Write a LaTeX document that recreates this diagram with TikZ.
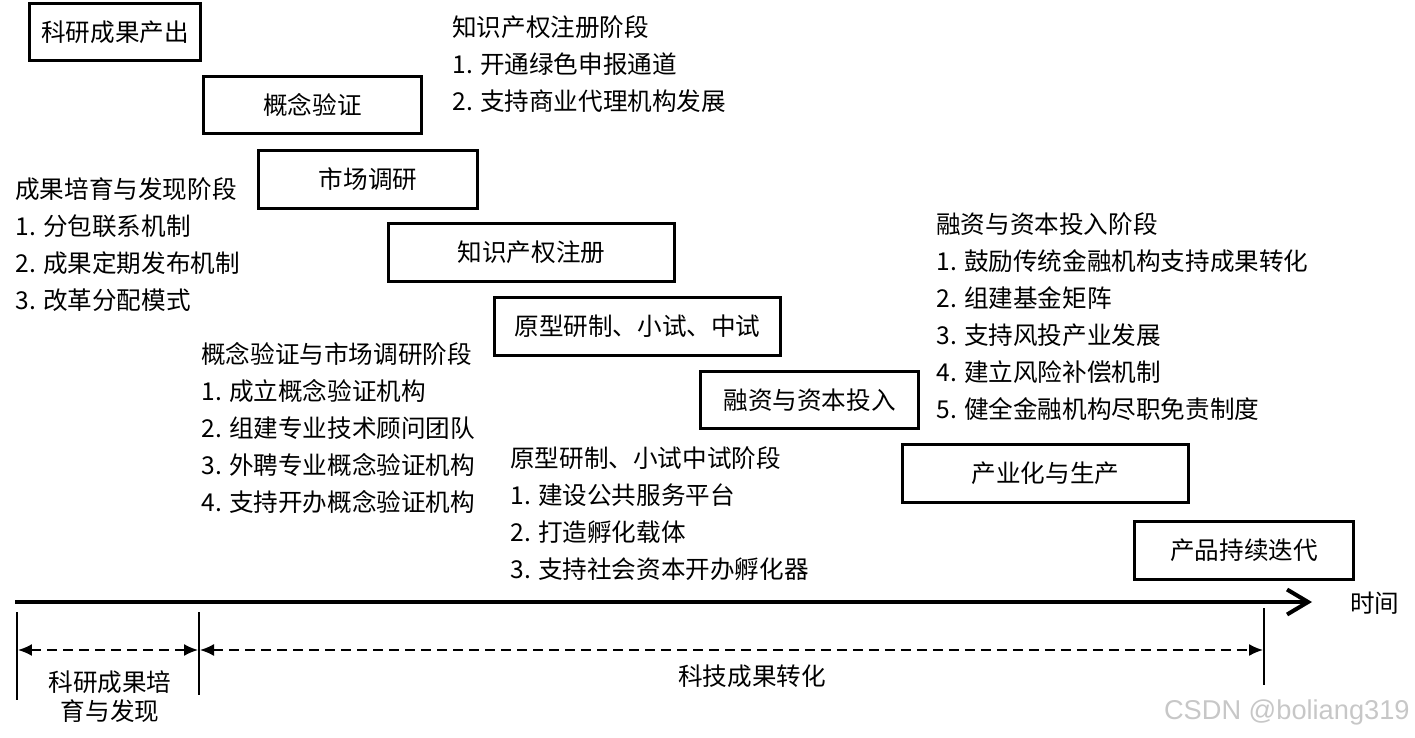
\documentclass[tikz,border=0pt]{standalone}
\usepackage{fontspec}
\setmainfont{Noto Sans CJK SC}
\newfontfamily\wmfont{Liberation Sans}
\usetikzlibrary{arrows.meta}
\tikzset{
  x=0.02cm, y=-0.02cm,
  stagebox/.style={draw=black, line width=1.6pt, inner sep=0pt, font=\fontsize{14}{21}\selectfont, minimum height=1.15cm},
  block/.style={anchor=base west, inner sep=0pt, align=left, font=\fontsize{14}{21}\selectfont},
  axis/.style={line width=2.3pt, -{Straight Barb[length=0.42cm, width=0.5cm, line width=2.3pt]}},
  tick/.style={line width=1pt},
  span/.style={line width=1pt, dash pattern=on 0.2cm off 0.12cm, {Latex[length=0.28cm, width=0.24cm]}-{Latex[length=0.28cm, width=0.24cm]}},
  lbl/.style={inner sep=0pt, font=\fontsize{14}{16.5}\selectfont, align=center}
}
\begin{document}
\begin{tikzpicture}
\useasboundingbox (0,0) rectangle (1415,737);
% stage boxes
\node[stagebox, minimum width=3.42cm] (b1) at (115,32) {科研成果产出};
\node[stagebox, minimum width=4.36cm] (b2) at (312.5,105) {概念验证};
\node[stagebox, minimum width=4.38cm] (b3) at (368,179.5) {市场调研};
\node[stagebox, minimum width=5.72cm] (b4) at (531.5,252.5) {知识产权注册};
\node[stagebox, minimum width=5.72cm] (b5) at (637.5,326.5) {原型研制、小试、中试};
\node[stagebox, minimum width=4.36cm] (b6) at (809.5,400) {融资与资本投入};
\node[stagebox, minimum width=5.72cm] (b7) at (1045.5,473.5) {产业化与生产};
\node[stagebox, minimum width=4.38cm] (b8) at (1244,550.5) {产品持续迭代};
% text blocks (anchored at the baseline of their last line)
\node[block] (t1) at (452,110) {知识产权注册阶段\\1. 开通绿色申报通道\\2. 支持商业代理机构发展};
\node[block] (t2) at (15,309) {成果培育与发现阶段\\1. 分包联系机制\\2. 成果定期发布机制\\3. 改革分配模式};
\node[block] (t3) at (201,511) {概念验证与市场调研阶段\\1. 成立概念验证机构\\2. 组建专业技术顾问团队\\3. 外聘专业概念验证机构\\4. 支持开办概念验证机构};
\node[block] (t4) at (510,578) {原型研制、小试中试阶段\\1. 建设公共服务平台\\2. 打造孵化载体\\3. 支持社会资本开办孵化器};
\node[block] (t5) at (936,418) {融资与资本投入阶段\\1. 鼓励传统金融机构支持成果转化\\2. 组建基金矩阵\\3. 支持风投产业发展\\4. 建立风险补偿机制\\5. 健全金融机构尽职免责制度};
% time axis
\coordinate (a0) at (15,602);
\coordinate (a1) at (1312,602);
\draw[axis] (a0) -- (a1);
\node[lbl, anchor=west] (time) at (1350,603) {时间};
% ticks
\coordinate (v1t) at (17,612); \coordinate (v1b) at (17,700);
\coordinate (v2t) at (199,612); \coordinate (v2b) at (199,695);
\coordinate (v3t) at (1264,608); \coordinate (v3b) at (1264,685);
\draw[tick] (v1t) -- (v1b);
\draw[tick] (v2t) -- (v2b);
\draw[tick] (v3t) -- (v3b);
\coordinate (d1) at (18,650); \coordinate (d2) at (198,650);
\coordinate (d3) at (200,650); \coordinate (d4) at (1263,650);
\draw[span] (d1) -- (d2);
\draw[span] (d3) -- (d4);
\node[lbl] (l1) at (110,697) {科研成果培\\育与发现};
\node[lbl] (l2) at (752,676) {科技成果转化};
\node[anchor=east, inner sep=0pt, text=black!22, font=\wmfont\fontsize{15.5}{18}\selectfont] (wm) at (1410,712) {CSDN @boliang319};
\end{tikzpicture}
\end{document}
